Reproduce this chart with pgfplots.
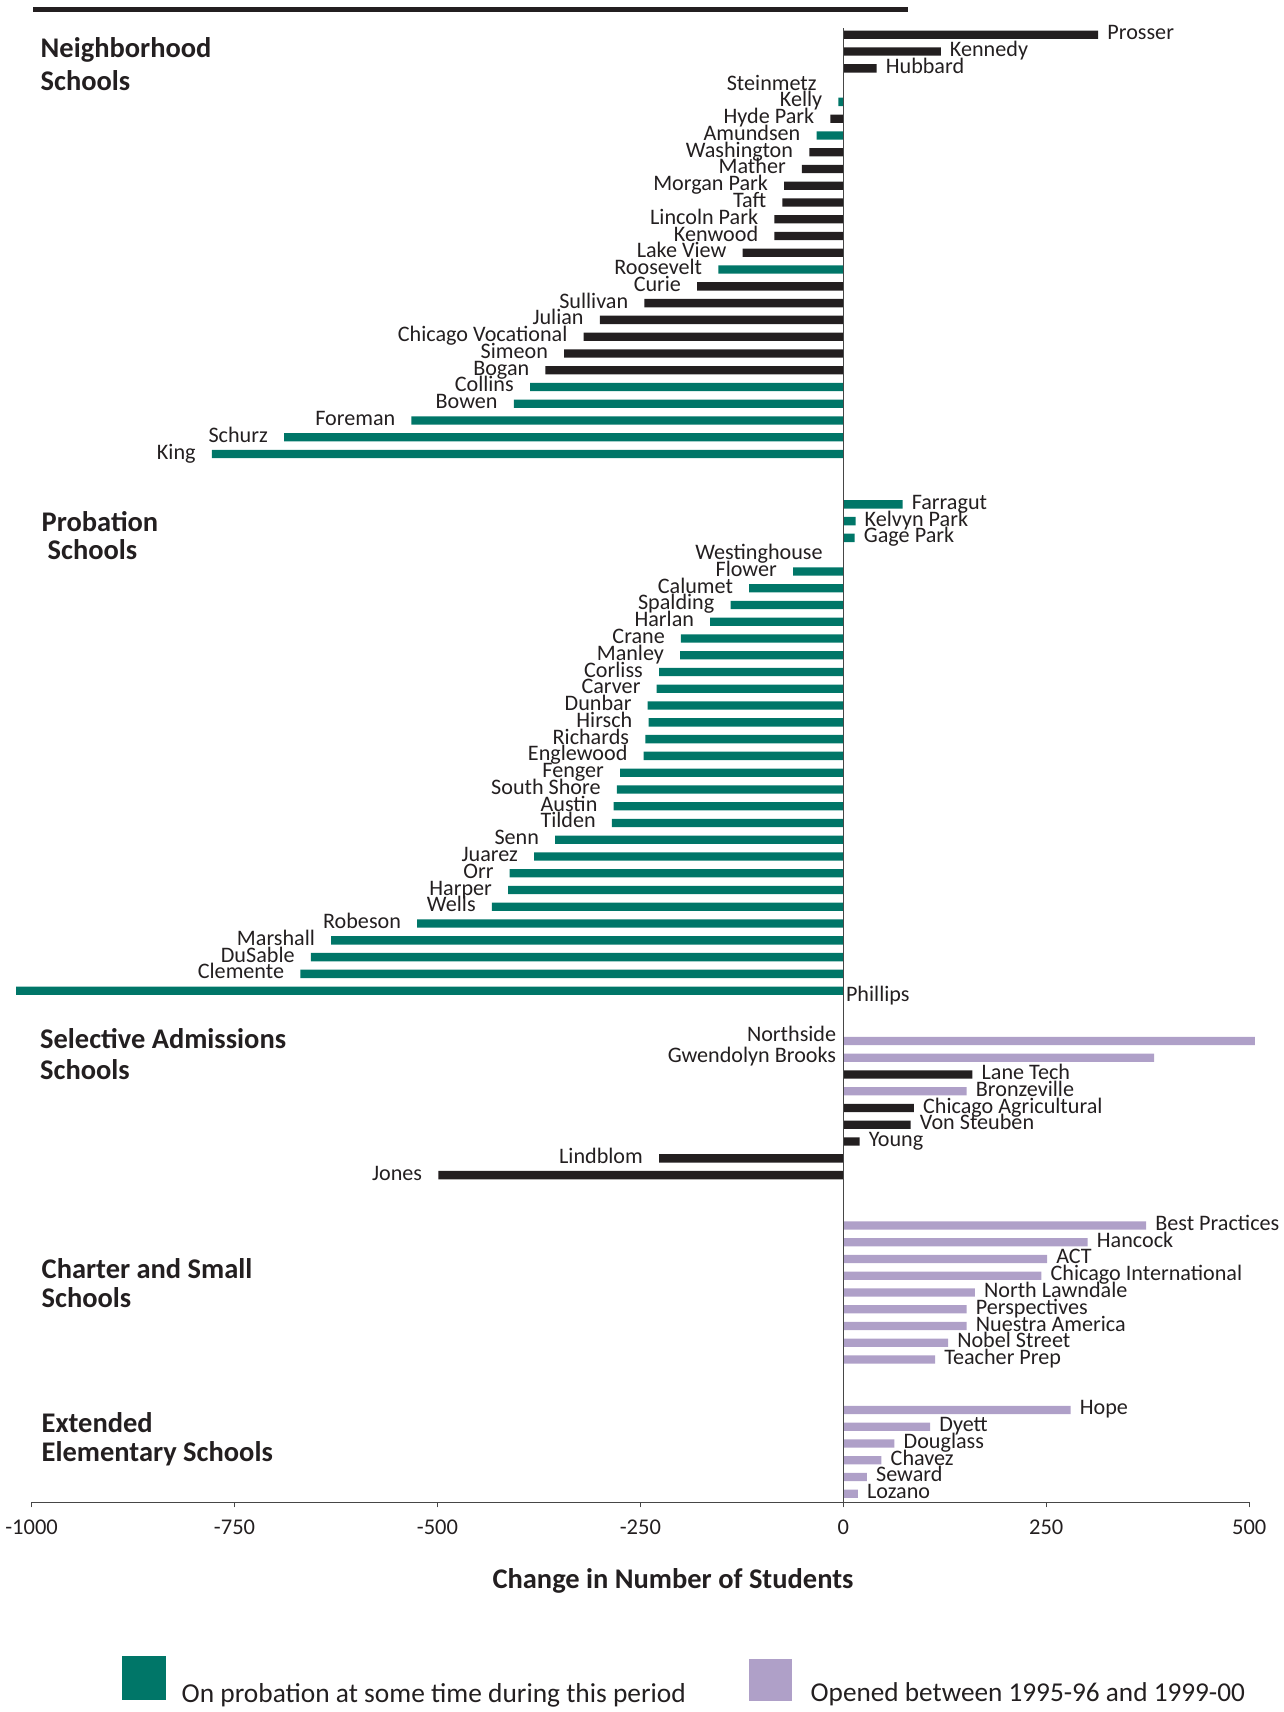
\documentclass[border=0pt]{standalone}
\usepackage{pgfplots}
\usepackage{pgfplotstable}
\pgfplotsset{compat=1.18}
\usepackage{fontspec}
\setmainfont{Carlito}

\definecolor{cblack}{RGB}{35,31,32}
\definecolor{cgreen}{RGB}{0,118,104}
\definecolor{cpurple}{RGB}{175,160,200}
\definecolor{axisgray}{RGB}{70,70,70}

\newcommand\lab{\fontsize{6.3pt}{7.5pt}\selectfont}
\newcommand\ticklab{\fontsize{6.4pt}{7.5pt}\selectfont}
\newcommand\head{\fontsize{8.1pt}{9.5pt}\selectfont\bfseries}

% idx = row from the top, val = change in number of students
\pgfplotstableread[col sep=comma]{
idx,val,name
0,314,Prosser
1,120,Kennedy
2,41,Hubbard
3,0,
5,-16,Hyde Park
7,-42,Washington
8,-51,Mather
9,-73,Morgan Park
10,-75,Taft
11,-85,Lincoln Park
12,-85,Kenwood
13,-124,Lake View
15,-180,Curie
16,-245,Sullivan
17,-300,Julian
18,-320,Chicago Vocational
19,-344,Simeon
20,-367,Bogan
62,159,Lane Tech
64,87,Chicago Agricultural
65,83,Von Steuben
66,20,Young
67,-227,Lindblom
68,-499,Jones
}\blackdata

\pgfplotstableread[col sep=comma]{
idx,val,name
4,-6,Kelly
6,-33,Amundsen
14,-154,Roosevelt
21,-386,Collins
22,-406,Bowen
23,-532,Foreman
24,-689,Schurz
25,-778,King
28,73,Farragut
29,15,Kelvyn Park
30,14,Gage Park
31,0,
32,-62,Flower
33,-116,Calumet
34,-139,Spalding
35,-164,Harlan
36,-200,Crane
37,-201,Manley
38,-227,Corliss
39,-230,Carver
40,-241,Dunbar
41,-240,Hirsch
42,-244,Richards
43,-246,Englewood
44,-275,Fenger
45,-279,South Shore
46,-283,Austin
47,-285,Tilden
48,-355,Senn
49,-381,Juarez
50,-411,Orr
51,-413,Harper
52,-433,Wells
53,-525,Robeson
54,-631,Marshall
55,-656,DuSable
56,-669,Clemente
57,-1019,
}\greendata

\pgfplotstableread[col sep=comma]{
idx,val,name
60,507,
61,383,
63,152,Bronzeville
71,373,Best Practices
72,301,Hancock
73,251,ACT
74,244,Chicago International
75,162,North Lawndale
76,152,Perspectives
77,152,Nuestra America
78,129,Nobel Street
79,113,Teacher Prep
82,280,Hope
83,107,Dyett
84,63,Douglass
85,47,Chavez
86,29,Seward
87,18,Lozano
}\purpledata

\pgfplotsset{
  schoolbars/.style={draw=none, fill=#1,
    nodes near coords, point meta=explicit symbolic,
    every node near coord/.append style={font=\lab, text=cblack,
      inner ysep=0pt, text height=1.4mm, text depth=0.4mm}},
  negbars/.style={schoolbars=#1, x filter/.expression={x<0 ? x : nan},
    every node near coord/.append style={anchor=east, inner xsep=1.55mm}},
  posbars/.style={schoolbars=#1, x filter/.expression={x<0 ? nan : x},
    every node near coord/.append style={anchor=west, inner xsep=0.85mm}},
}

\begin{document}
\begin{tikzpicture}
\useasboundingbox (0,0) rectangle (128.3mm,171.2mm);
\begin{axis}[
  at={(3.16mm,20.97mm)}, anchor=south west,
  scale only axis, width=121.76mm, height=147.4mm,
  xmin=-1000, xmax=500, ymin=-87.51, ymax=0.39,
  clip=false,
  axis y line=none, axis x line*=bottom,
  x axis line style={-, draw=axisgray, line width=0.1mm},
  xtick={-1000,-750,-500,-250,0,250,500},
  xticklabels={-1000,-750,-500,-250,0,250,500},
  xtick align=outside, major tick length=0.5mm,
  xtick style={draw=axisgray, line width=0.1mm},
  xticklabel style={font=\ticklab, text=cblack, anchor=north, inner sep=0pt, yshift=-1.2mm},
  xlabel={Change in Number of Students},
  every axis x label/.style={at={(axis description cs:0.5268,0)}, anchor=base,
    yshift=-8.6mm, font=\head, text=cblack},
  xbar, bar width=0.83mm, bar shift=0pt,
]
\addplot[negbars=cblack] table[x=val, y expr=-\thisrow{idx}, meta=name] {\blackdata};
\addplot[posbars=cblack] table[x=val, y expr=-\thisrow{idx}, meta=name] {\blackdata};
\addplot[negbars=cgreen] table[x=val, y expr=-\thisrow{idx}, meta=name] {\greendata};
\addplot[posbars=cgreen] table[x=val, y expr=-\thisrow{idx}, meta=name] {\greendata};
\addplot[posbars=cpurple] table[x=val, y expr=-\thisrow{idx}, meta=name] {\purpledata};

\draw[axisgray, line width=0.1mm] (axis cs:0,0.39) -- (axis cs:0,-87.51);

\begin{scope}[every node/.style={font=\lab, text=cblack, inner xsep=1.1mm, inner ysep=0pt,
    text height=1.4mm, text depth=0.4mm}]
\node[anchor=east, xshift=-1.5mm] at (axis cs:0,-3) {Steinmetz};
\node[anchor=east, xshift=-0.9mm] at (axis cs:0,-31) {Westinghouse};
\node[anchor=west, xshift=-0.9mm, yshift=-0.55mm] at (axis cs:0,-57) {Phillips};
\node[anchor=east, xshift=0.45mm, yshift=0.45mm] at (axis cs:0,-60) {Northside};
\node[anchor=east, xshift=0.45mm] at (axis cs:0,-61) {Gwendolyn Brooks};
\end{scope}
\end{axis}

\draw[cblack, line width=0.5mm] (3.3mm,170.28mm) -- (90.8mm,170.28mm);

\begin{scope}[every node/.style={font=\head, text=cblack, inner sep=0pt, anchor=base west}]
\node at (4.0mm,165.43mm) {Neighborhood};
\node at (4.0mm,162.1mm) {Schools};
\node at (4.1mm,118.03mm) {Probation};
\node at (4.7mm,115.2mm) {Schools};
\node at (3.95mm,66.37mm) {Selective Admissions};
\node at (3.95mm,63.2mm) {Schools};
\node at (4.1mm,43.37mm) {Charter and Small};
\node at (4.1mm,40.47mm) {Schools};
\node at (4.1mm,27.97mm) {Extended};
\node at (4.1mm,25.03mm) {Elementary Schools};
\end{scope}

\fill[cgreen] (12.23mm,1.2mm) rectangle (16.6mm,5.6mm);
\node[anchor=base west, inner sep=0pt, text=cblack, font=\fontsize{7.8pt}{9pt}\selectfont]
  at (18.1mm,0.92mm) {On probation at some time during this period};
\fill[cpurple] (74.9mm,1.1mm) rectangle (79.2mm,5.34mm);
\node[anchor=base west, inner sep=0pt, text=cblack, font=\fontsize{7.75pt}{9pt}\selectfont]
  at (81.0mm,1.1mm) {Opened between 1995-96 and 1999-00};
\end{tikzpicture}
\end{document}
